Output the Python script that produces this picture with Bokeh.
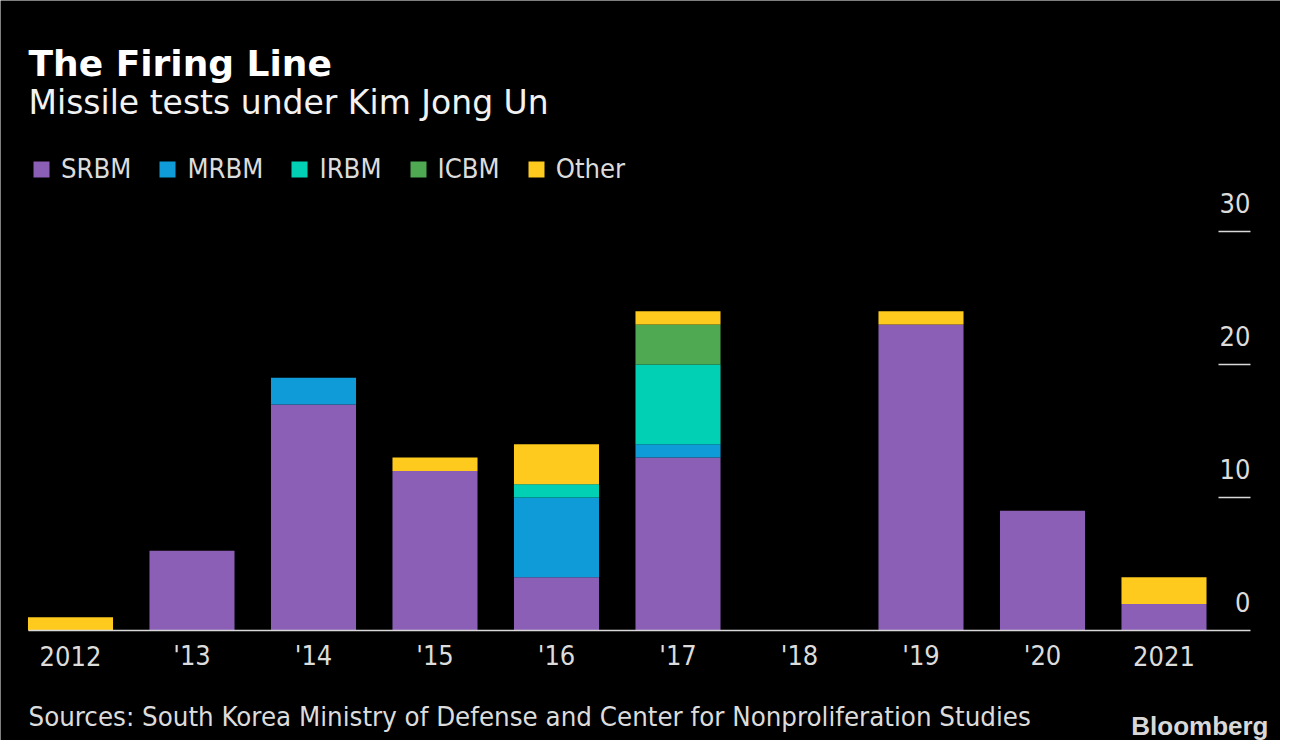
from bokeh.plotting import figure
from bokeh.models import ColumnDataSource, Label, Legend, LegendItem
from bokeh.core.properties import value
from bokeh.embed import file_html
from bokeh.resources import INLINE

# ---- data ----
years = ["2012", "'13", "'14", "'15", "'16", "'17", "'18", "'19", "'20", "2021"]
srbm = [0, 6, 17, 12, 4, 13, 0, 23, 9, 2]
mrbm = [0, 0, 2, 0, 6, 1, 0, 0, 0, 0]
irbm = [0, 0, 0, 0, 1, 6, 0, 0, 0, 0]
icbm = [0, 0, 0, 0, 0, 3, 0, 0, 0, 0]
other = [1, 0, 0, 1, 3, 1, 0, 1, 0, 2]
series = ["SRBM", "MRBM", "IRBM", "ICBM", "Other"]
colors = ["#8A5FB5", "#0F9BD8", "#02D0B4", "#4EA952", "#FFCA1E"]
y_ticks = [0, 10, 20, 30]

title = "The Firing Line"
subtitle = "Missile tests under Kim Jong Un"
source_text = "Sources: South Korea Ministry of Defense and Center for Nonproliferation Studies"
logo = "Bloomberg"

# ---- layout (canvas pixels) ----
W, H = 1280, 740
x0_px, px_x = 70.0, 121.5        # canvas x of first category, px per category
y0_px, px_y = 630.0, 13.3        # canvas y of value 0, px per unit
axis_left_px, axis_right_px = 28.0, 1250.0
BL = 12                          # baseline correction (px)

def dx(px):
    return (px - x0_px) / px_x

def dy(py):
    return (y0_px - py) / px_y

COND = "DejaVu Sans Condensed"
TXT = "#dcdcdc"
LINE = "#d9d9d9"

x_idx = list(range(len(years)))
source = ColumnDataSource(dict(x=x_idx, SRBM=srbm, MRBM=mrbm, IRBM=irbm, ICBM=icbm, Other=other))

p = figure(width=W, height=H, output_backend="svg", toolbar_location=None,
           x_range=(dx(0), dx(W)), y_range=(dy(H), dy(0)),
           x_axis_location=None, y_axis_location=None,
           min_border=0, background_fill_color="black", border_fill_color="black")
p.outline_line_color = None
p.grid.visible = False

renderers = p.vbar_stack(series, x="x", width=0.7, color=colors, line_color=None,
                         source=source)

# baseline (x axis line)
p.segment(x0=[dx(axis_left_px)], x1=[dx(axis_right_px)], y0=[0], y1=[0],
          line_color=LINE, line_width=1.5)
# x tick labels
p.text(x=x_idx, y=[0] * len(x_idx), text=years, text_align="center",
       text_baseline="alphabetic", y_offset=37 - BL,
       text_font=value(COND), text_font_size="27px", text_color=TXT)

# y tick marks and labels (right side, inside)
tick_len = 32 / px_x
xr = dx(axis_right_px)
p.segment(x0=[xr - tick_len] * 3, x1=[xr] * 3, y0=y_ticks[1:], y1=y_ticks[1:],
          line_color=LINE, line_width=1.5)
p.text(x=[xr] * len(y_ticks), y=y_ticks, text=[str(t) for t in y_ticks],
       text_align="right", text_baseline="alphabetic", y_offset=-17 - BL,
       text_font=value(COND), text_font_size="27px", text_color=TXT)

# legend
items = [LegendItem(label=s, renderers=[r]) for s, r in zip(series, renderers)]
legend = Legend(items=items, orientation="horizontal", location=(31, H - 184),
                glyph_width=20, glyph_height=20, label_standoff=10, spacing=26,
                padding=0, margin=0, border_line_color=None, background_fill_alpha=0,
                label_text_font=COND, label_text_font_size="27.2px", label_text_color=TXT)
p.add_layout(legend, "center")

# titles / notes (screen units: from canvas bottom-left)
p.add_layout(Label(x=28, y=H - 75 + BL, x_units="screen", y_units="screen",
                   text=title, text_font="DejaVu Sans", text_font_style="bold",
                   text_font_size="36px", text_color="white", text_baseline="alphabetic"))
p.add_layout(Label(x=28, y=H - 114 + BL, x_units="screen", y_units="screen",
                   text=subtitle, text_font="DejaVu Sans",
                   text_font_size="33px", text_color="#f2f2f2", text_baseline="alphabetic"))
p.add_layout(Label(x=28, y=H - 728 + BL, x_units="screen", y_units="screen",
                   text=source_text, text_font=COND,
                   text_font_size="27.4px", text_color=TXT, text_baseline="alphabetic"))
p.add_layout(Label(x=1268, y=H - 737 + BL, x_units="screen", y_units="screen",
                   text=logo, text_font="Liberation Sans", text_font_style="bold",
                   text_font_size="26px", text_color="#d8d8d8", text_baseline="alphabetic",
                   text_align="right"))

open("out.html", "w").write(file_html(p, INLINE))
